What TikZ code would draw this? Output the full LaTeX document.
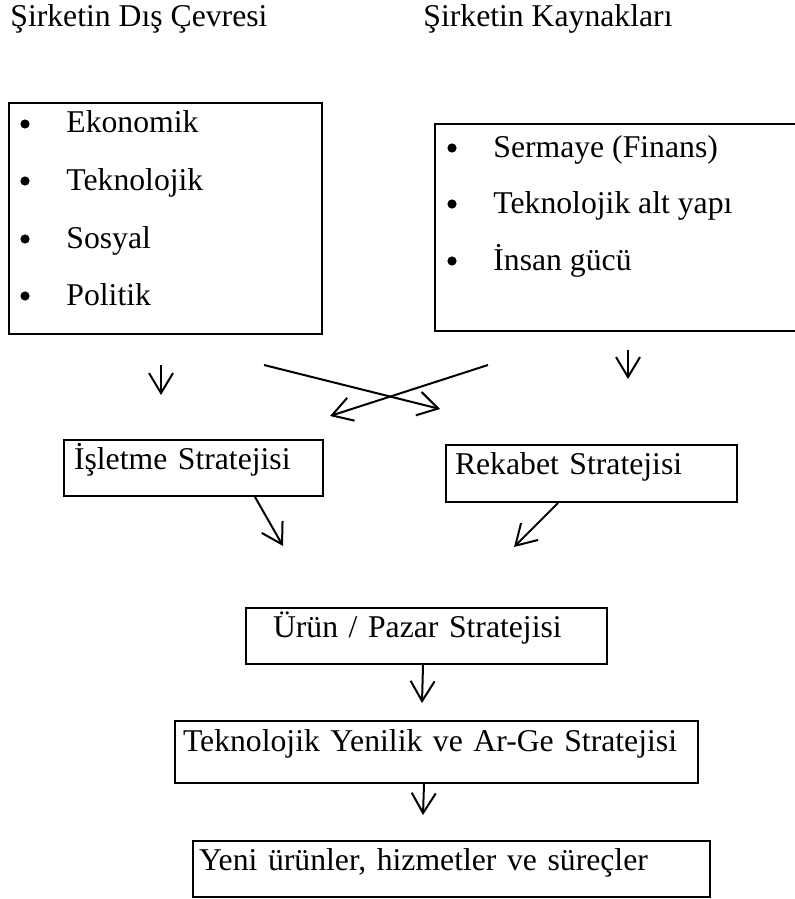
\documentclass[tikz,border=0pt]{standalone}
\usepackage{fontspec}
\setmainfont{Liberation Serif}
\usetikzlibrary{arrows.meta}

\begin{document}
\begin{tikzpicture}[x=0.5pt, y=-0.5pt,
    every node/.style={font=\fontsize{15.85pt}{19pt}\selectfont},
    lbl/.style={anchor=base west, inner sep=0pt},
    frame/.style={draw, line width=1pt, anchor=north west, inner sep=0pt},
    box/.style={draw, line width=1pt, anchor=north west, align=left, inner ysep=0pt, text height=14.5pt},
    arr/.style={line width=1pt, -{Straight Barb[length=10pt, width=12pt]}}]
\useasboundingbox (0,0) rectangle (795,899);

% headings
\node[lbl] (dis) at (10,27) {Şirketin Dış Çevresi};
\node[lbl] (kay) at (423,27) {Şirketin Kaynakları};

% the two lists
\node[frame, minimum width=156.5pt, minimum height=115.5pt] (cevre) at (8,102) {};
\node[frame, minimum width=181pt, minimum height=103.5pt] (kaynak) at (434,123) {};
\foreach \name/\y/\txt in {e1/133/Ekonomik, e2/190/Teknolojik, e3/248/Sosyal, e4/305/Politik}{
  \node[lbl] (\name) at (66,\y) {\txt};
  \fill (25,\y-9) circle (2.3pt);
}
\foreach \name/\y/\txt in {k1/157/Sermaye (Finans), k2/213/Teknolojik alt yapı, k3/270/İnsan gücü}{
  \node[lbl] (\name) at (493,\y) {\txt};
  \fill (452,\y-9) circle (2.3pt);
}

% strategy boxes
\node[box, inner xsep=5pt, text width=119.5pt, text depth=13.5pt] (isl) at (63,439) {İşletme Stratejisi};
\node[box, inner xsep=4.5pt, text width=136.5pt, text depth=14pt] (rek) at (445,444) {Rekabet Stratejisi};
\node[box, inner xsep=13.5pt, text width=153.5pt, text depth=13.5pt] (urun) at (245,607) {Ürün / Pazar Stratejisi};
\node[box, inner xsep=4pt, text width=253.5pt, text height=15pt, text depth=16pt] (tek) at (174,720) {Teknolojik Yenilik ve Ar-Ge Stratejisi};
\node[box, inner xsep=3pt, text width=252.5pt, text depth=13.5pt] (yeni) at (192,840) {Yeni ürünler, hizmetler ve süreçler};

% free ends of the arrows
\coordinate (cevre1) at (161,365);  \coordinate (cevre2) at (161,395);
\coordinate (kaynak1) at (628,350); \coordinate (kaynak2) at (628,379);
\coordinate (capraz1) at (264,365); \coordinate (capraz2) at (440,409);
\coordinate (capraz3) at (488,365); \coordinate (capraz4) at (330,416);
\coordinate (islson) at (283,546);  \coordinate (rekson) at (514,547);
\coordinate (urunson) at (422,703); \coordinate (tekson) at (423,815);

\draw[arr] (cevre1) -- (cevre2);
\draw[arr] (kaynak1) -- (kaynak2);
\draw[arr] (capraz1) -- (capraz2);
\draw[arr] (capraz3) -- (capraz4);
\draw[arr] ([xshift=30.75pt]isl.south) -- (islson);
\draw[arr] ([xshift=-16.75pt]rek.south) -- (rekson);
\draw[arr] ([xshift=-1.75pt]urun.south) -- (urunson);
\draw[arr] ([xshift=-6.25pt]tek.south) -- (tekson);
\end{tikzpicture}
\end{document}
